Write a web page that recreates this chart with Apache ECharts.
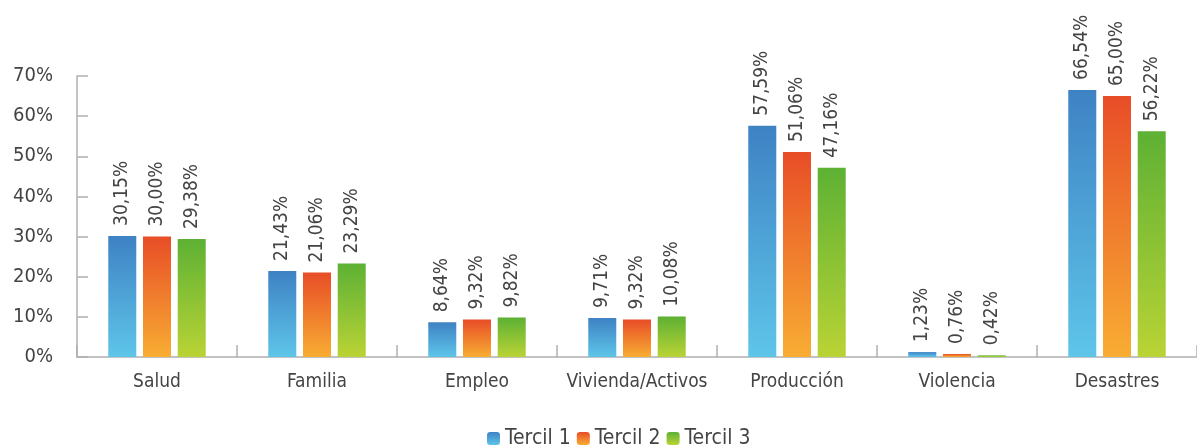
<!DOCTYPE html>
<html><head><meta charset="utf-8">
<script src="https://cdn.jsdelivr.net/npm/echarts@6/dist/echarts.min.js"></script>
<style>html,body{margin:0;padding:0;background:#fff}#c{width:1197px;height:446px}</style>
</head><body><div id="c"></div>
<script>
const categories = ['Salud','Familia','Empleo','Vivienda/Activos','Producción','Violencia','Desastres'];
const seriesNames = ['Tercil 1','Tercil 2','Tercil 3'];
const tercil1 = [30.15, 21.43, 8.64, 9.71, 57.59, 1.23, 66.54];
const tercil2 = [30.00, 21.06, 9.32, 9.32, 51.06, 0.76, 65.00];
const tercil3 = [29.38, 23.29, 9.82, 10.08, 47.16, 0.42, 56.22];
const yTicks = [0,10,20,30,40,50,60,70];

const FONT = '"DejaVu Sans Condensed","Liberation Sans Narrow",sans-serif';
function grad(top,bottom){
  return new echarts.graphic.LinearGradient(0,0,0,1,[{offset:0,color:top},{offset:1,color:bottom}]);
}
const colors = [grad('#3e82c4','#5ec5e9'), grad('#e84d27','#f8ad33'), grad('#5db134','#bad335')];
const data = [tercil1,tercil2,tercil3];

const chart = echarts.init(document.getElementById('c'));
chart.setOption({
  animation:false,
  textStyle:{fontFamily:FONT},
  grid:{left:77,right:0,top:76,bottom:89},
  legend:{
    bottom:-8,left:482,itemWidth:13,itemHeight:13,itemGap:6,
    textStyle:{fontFamily:FONT,fontSize:21,color:'#444'},
    data:seriesNames
  },
  xAxis:{
    type:'category',data:categories,
    axisLine:{lineStyle:{color:'#b0b0b0',width:1.5}},
    axisTick:{show:true,inside:true,length:12,interval:0,lineStyle:{color:'#b0b0b0',width:1.5}},
    axisLabel:{fontFamily:FONT,fontSize:19,color:'#444',margin:16,interval:0}
  },
  yAxis:{
    type:'value',min:yTicks[0],max:yTicks[yTicks.length-1],interval:10,
    axisLine:{show:true,lineStyle:{color:'#b0b0b0',width:1.5}},
    axisTick:{show:true,inside:true,length:11,lineStyle:{color:'#b0b0b0',width:1.5}},
    splitLine:{show:false},
    axisLabel:{fontFamily:FONT,fontSize:20,color:'#444',margin:24,formatter:v=>v+'%'}
  },
  series: seriesNames.map((n,i)=>({
    name:n,type:'bar',data:data[i],barWidth:28,barGap:'24%',
    itemStyle:{color:colors[i]},
    label:{show:true,position:'top',rotate:90,align:'left',verticalAlign:'middle',distance:10,
      fontFamily:FONT,fontSize:19,color:'#444',
      formatter:p=>p.value.toFixed(2).replace('.',',')+'%'}
  }))
});
</script></body></html>
